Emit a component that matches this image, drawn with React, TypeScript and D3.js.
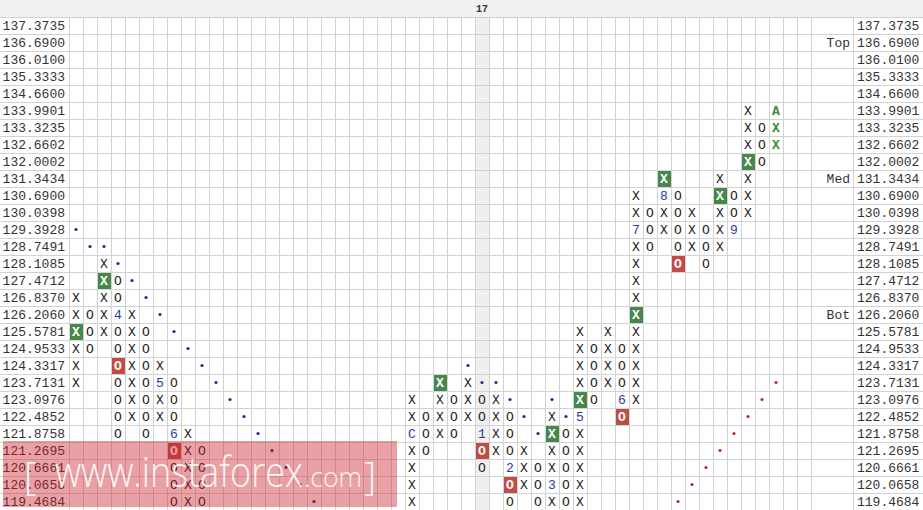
import React from 'react';
import * as d3 from 'd3';

const priceLevels = [137.3735, 136.69, 136.01, 135.3333, 134.66, 133.9901, 133.3235, 132.6602, 132.0002, 131.3434, 130.69, 130.0398, 129.3928, 128.7491, 128.1085, 127.4712, 126.837, 126.206, 125.5781, 124.9533, 124.3317, 123.7131, 123.0976, 122.4852, 121.8758, 121.2695, 120.6661, 120.0658, 119.4684];

const columnCount = 53;
const dateColumn = 29;
const dateLabel = '17';

const colIndex = [0, 1, 2, 3, 4, 5, 6, 7, 8, 9, 24, 25, 26, 27, 28, 29, 30, 31, 32, 33, 34, 35, 36, 37, 38, 39, 40, 41, 42, 43, 44, 45, 46, 47, 48, 49, 50];
const colType = ['X', 'O', 'X', 'O', 'X', 'O', 'X', 'O', 'X', 'O', 'X', 'O', 'X', 'O', 'X', 'O', 'X', 'O', 'X', 'O', 'X', 'O', 'X', 'O', 'X', 'O', 'X', 'O', 'X', 'O', 'X', 'O', 'X', 'O', 'X', 'O', 'X'];
const colHigh = [126.837, 126.206, 128.1085, 127.4712, 126.206, 125.5781, 124.3317, 123.7131, 121.8758, 121.2695, 123.0976, 122.4852, 123.7131, 123.0976, 123.7131, 123.0976, 123.0976, 122.4852, 121.2695, 120.6661, 122.4852, 121.8758, 125.5781, 124.9533, 125.5781, 124.9533, 130.69, 130.0398, 131.3434, 130.69, 130.0398, 129.3928, 131.3434, 130.69, 133.9901, 133.3235, 133.3235];
const colLow = [123.7131, 124.9533, 125.5781, 121.8758, 122.4852, 121.8758, 122.4852, 119.4684, 119.4684, 119.4684, 119.4684, 121.2695, 121.8758, 121.8758, 122.4852, 120.6661, 121.2695, 119.4684, 120.0658, 119.4684, 119.4684, 119.4684, 119.4684, 123.0976, 123.7131, 122.4852, 123.0976, 128.7491, 129.3928, 128.1085, 128.7491, 128.1085, 128.7491, 129.3928, 130.0398, 132.0002, 132.6602];

const buyCol = [0, 2, 26, 34, 36, 40, 42, 46, 48];
const buyPrice = [125.5781, 127.4712, 123.7131, 121.8758, 123.0976, 126.206, 131.3434, 130.69, 132.0002];
const sellCol = [3, 7, 29, 31, 39, 43];
const sellPrice = [124.3317, 121.2695, 121.2695, 120.0658, 122.4852, 128.1085];

const monthCol = [3, 6, 7, 24, 29, 31, 34, 36, 39, 40, 42, 47];
const monthLabel = ['4', '5', '6', 'C', '1', '2', '3', '5', '6', '7', '8', '9'];
const monthPrice = [126.206, 123.7131, 121.8758, 121.8758, 121.8758, 120.6661, 120.0658, 122.4852, 123.0976, 129.3928, 130.69, 129.3928];

const currentCol = 50;
const currentLabel = 'A';
const currentLabelPrice = 133.9901;

const blueDotCol = [0, 1, 2, 3, 4, 5, 6, 7, 8, 9, 10, 11, 12, 13, 14, 15, 16, 17, 28, 29, 30, 31, 32, 33, 34, 35];
const blueDotPrice = [129.3928, 128.7491, 128.7491, 128.1085, 127.4712, 126.837, 126.206, 125.5781, 124.9533, 124.3317, 123.7131, 123.0976, 122.4852, 121.8758, 121.2695, 120.6661, 120.0658, 119.4684, 124.3317, 123.7131, 123.7131, 123.0976, 122.4852, 121.8758, 123.0976, 122.4852];
const redDotCol = [50, 49, 48, 47, 46, 45, 44, 43];
const redDotPrice = [123.7131, 123.0976, 122.4852, 121.8758, 121.2695, 120.6661, 120.0658, 119.4684];

const levelNames = ['Top', 'Med', 'Bot'];
const levelPrices = [136.69, 131.3434, 126.206];

const W = 923;
const H = 510;
const HEADER = 17;
const GRID_L = 69;
const GRID_R = 811;
const LABELCOL_R = 853;

const mono = '"Liberation Mono", "Courier New", monospace';

export default function App() {
  const x = d3.scaleBand<number>().domain(d3.range(columnCount)).range([GRID_L, GRID_R]);
  const y = d3.scaleBand<number>().domain(priceLevels).range([HEADER, HEADER + priceLevels.length * 17]);
  const bw = x.bandwidth();
  const bh = y.bandwidth();
  const cx = (c: number) => (x(c) as number) + bw / 2;
  const cy = (p: number) => (y(p) as number) + bh / 2;
  const fmt = d3.format('.4f');

  const key = (c: number, p: number) => c + '|' + p;
  const buySet = new Set(buyCol.map((c, i) => key(c, buyPrice[i])));
  const sellSet = new Set(sellCol.map((c, i) => key(c, sellPrice[i])));
  const monthSet = new Set(monthCol.map((c, i) => key(c, monthPrice[i])));

  const cells: { c: number; p: number; t: string }[] = [];
  colIndex.forEach((c, i) => {
    priceLevels.forEach((p) => {
      if (p <= colHigh[i] + 1e-6 && p >= colLow[i] - 1e-6) cells.push({ c, p, t: colType[i] });
    });
  });

  const hLines = d3.range(priceLevels.length + 1).map((k) => HEADER + k * bh);
  const vLines = d3.range(columnCount + 1).map((k) => GRID_L + k * bw);

  return (
    <svg width={W} height={H} style={{ position: 'absolute', left: 0, top: 0, background: '#fff' }}>
      <rect x={0} y={0} width={W} height={H} fill="#fff" />
      <rect x={0} y={0} width={W} height={HEADER} fill="#f0f0f0" />
      <rect x={x(dateColumn)} y={HEADER} width={bw} height={H - HEADER} fill="#efefef" />
      <text x={cx(dateColumn)} y={HEADER / 2 + 1} fontFamily={mono} fontSize={10} fontWeight="bold" fill="#333" textAnchor="middle" dominantBaseline="central">{dateLabel}</text>
      {hLines.map((v, i) => (
        <line key={'h' + i} x1={0} x2={W} y1={v + 0.5} y2={v + 0.5} stroke="#d2d2d2" />
      ))}
      {vLines.map((v, i) => (
        <line key={'v' + i} x1={v + 0.5} x2={v + 0.5} y1={HEADER} y2={H} stroke="#d2d2d2" />
      ))}
      <line x1={LABELCOL_R + 0.5} x2={LABELCOL_R + 0.5} y1={HEADER} y2={H} stroke="#d2d2d2" />
      {priceLevels.map((p) => (
        <g key={'l' + p}>
          <text x={65} y={cy(p) + 1} fontFamily={mono} fontSize={13} fill="#333" textAnchor="end" dominantBaseline="central">{fmt(p)}</text>
          <text x={857} y={cy(p) + 1} fontFamily={mono} fontSize={13} fill="#333" textAnchor="start" dominantBaseline="central">{fmt(p)}</text>
        </g>
      ))}
      {levelNames.map((n, i) => (
        <text key={n} x={850} y={cy(levelPrices[i]) + 1} fontFamily={mono} fontSize={13} fill="#333" textAnchor="end" dominantBaseline="central">{n}</text>
      ))}
      {blueDotCol.map((c, i) => (
        <circle key={'bd' + i} cx={cx(c)} cy={cy(blueDotPrice[i])} r={1.6} fill="#1f2a8c" />
      ))}
      {redDotCol.map((c, i) => (
        <circle key={'rd' + i} cx={cx(c)} cy={cy(redDotPrice[i])} r={1.6} fill="#c0281e" />
      ))}
      {cells.map(({ c, p, t }) => {
        const k = key(c, p);
        const x0 = (x(c) as number) + 1;
        const y0 = (y(p) as number) + 1;
        if (buySet.has(k)) {
          return (
            <g key={k}>
              <rect x={x0} y={y0} width={bw - 1} height={bh - 1} fill="#46874b" />
              <text x={cx(c)} y={cy(p) + 1} fontFamily={mono} fontSize={13} fontWeight="bold" fill="#fff" textAnchor="middle" dominantBaseline="central">{t}</text>
            </g>
          );
        }
        if (sellSet.has(k)) {
          return (
            <g key={k}>
              <rect x={x0} y={y0} width={bw - 1} height={bh - 1} fill="#c24b45" />
              <text x={cx(c)} y={cy(p) + 1} fontFamily={mono} fontSize={13} fontWeight="bold" fill="#fff" textAnchor="middle" dominantBaseline="central">{t}</text>
            </g>
          );
        }
        if (monthSet.has(k)) {
          const mi = monthCol.findIndex((mc, j) => mc === c && monthPrice[j] === p);
          return (
            <text key={k} x={cx(c)} y={cy(p) + 1} fontFamily={mono} fontSize={13} fill="#2b3aa0" textAnchor="middle" dominantBaseline="central">{monthLabel[mi]}</text>
          );
        }
        const isCurrent = c === currentCol;
        return (
          <text key={k} x={cx(c)} y={cy(p) + 1} fontFamily={mono} fontSize={13} fontWeight={isCurrent ? 'bold' : 'normal'} fill={isCurrent ? '#2e8b2e' : '#222'} textAnchor="middle" dominantBaseline="central">{t}</text>
        );
      })}
      <text x={cx(currentCol)} y={cy(currentLabelPrice) + 1} fontFamily={mono} fontSize={13} fontWeight="bold" fill="#2e8b2e" textAnchor="middle" dominantBaseline="central">{currentLabel}</text>
      <g>
        <rect x={3} y={441} width={394} height={66} fill="rgba(205,30,40,0.42)" />
        <text x={24} y={490} fontFamily='"Open Sans", sans-serif' fontWeight={300} fontSize={38} fill="#fff" fillOpacity={0.92}>[</text>
        <text x={55} y={487} fontFamily='"Open Sans", sans-serif' fontWeight={300} fontSize={42} fill="#fff" fillOpacity={0.92} textLength={248} lengthAdjust="spacingAndGlyphs">www.instaforex</text>
        <text x={304} y={487} fontFamily='"Open Sans", sans-serif' fontWeight={300} fontSize={27} fill="#fff" fillOpacity={0.92} textLength={58} lengthAdjust="spacingAndGlyphs">.com</text>
        <text x={364} y={490} fontFamily='"Open Sans", sans-serif' fontWeight={300} fontSize={38} fill="#fff" fillOpacity={0.92}>]</text>
      </g>
    </svg>
  );
}
